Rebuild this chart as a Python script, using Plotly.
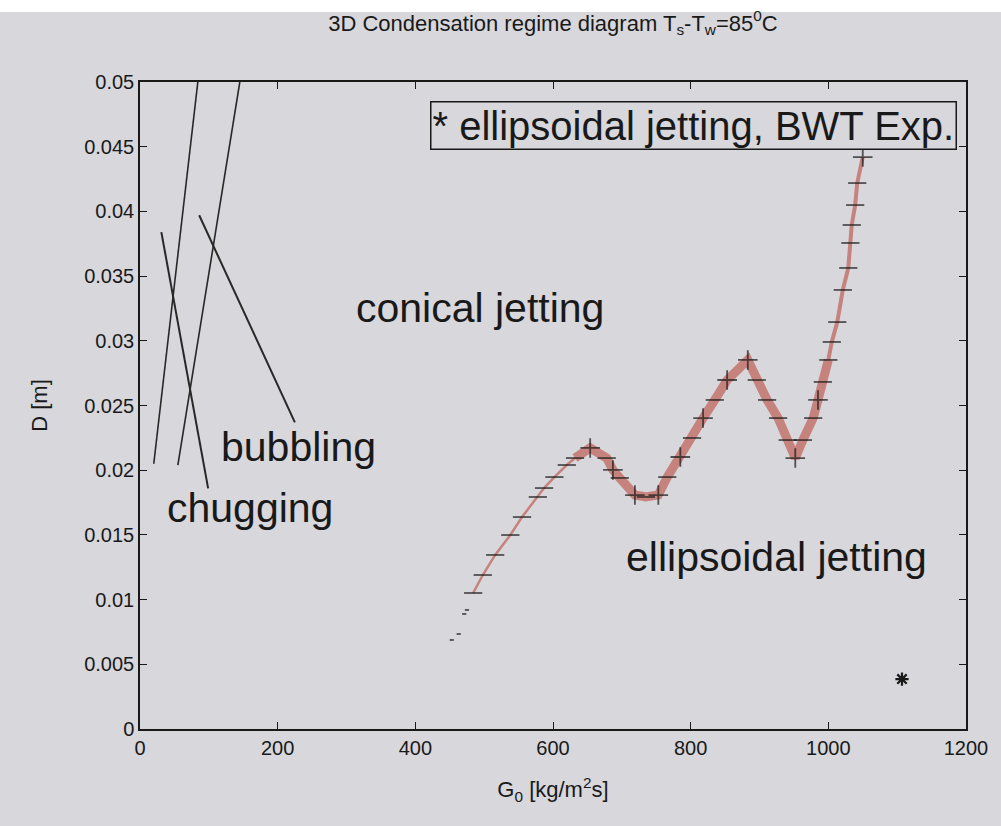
import plotly.graph_objects as go

# ---------------- data ----------------
# measured boundary curve (ellipsoidal / conical jetting), G0 [kg/m2s], D [m]
G_CURVE = [453, 463, 471, 475, 484, 498, 516, 538, 555, 578, 587, 602, 620, 632,
           654, 678, 687, 697, 719, 735, 753, 766, 785, 802, 818, 835, 853, 883,
           896, 911, 927, 941, 952, 963, 978, 985, 992, 1000, 1005, 1013, 1021,
           1029, 1032, 1034, 1039, 1042, 1050]
D_CURVE = [0.00688, 0.00734, 0.00889, 0.00920, 0.01051, 0.01190, 0.01345, 0.01499,
           0.01638, 0.01793, 0.01862, 0.01947, 0.02040, 0.02094, 0.02172, 0.02094,
           0.02002, 0.01940, 0.01808, 0.01793, 0.01808, 0.01947, 0.02102, 0.02249,
           0.02403, 0.02543, 0.02697, 0.02852, 0.02697, 0.02543, 0.02403, 0.02233,
           0.02094, 0.02233, 0.02403, 0.02543, 0.02682, 0.02852, 0.02991, 0.03145,
           0.03393, 0.03563, 0.03756, 0.03895, 0.04049, 0.04219, 0.04420]
# points whose marker prints as a full "+"
PLUS_G = [654, 687, 719, 753, 785, 818, 853, 883, 952, 985, 1050]
# points printed only as faint dots
DOT_G = [453, 463, 471, 475]

# BWT experiment (ellipsoidal jetting)
EXP_G = [1107]
EXP_D = [0.00386]

# regime boundary lines (two end points each)
LINE_A_G = [20, 84]
LINE_A_D = [0.0205, 0.05]
LINE_B_G = [55, 145]
LINE_B_D = [0.0204, 0.05]
LINE_C_G = [31, 99]
LINE_C_D = [0.0384, 0.0186]
LINE_D_G = [86, 225]
LINE_D_D = [0.0397, 0.0237]

# region labels
LABELS = ["conical jetting", "bubbling", "chugging", "ellipsoidal jetting"]
LABEL_G = [494, 230, 160, 925]
LABEL_D = [0.0325, 0.0218, 0.0171, 0.0133]

X_TICKS = [0, 200, 400, 600, 800, 1000, 1200]
Y_TICKS = [0, 0.005, 0.01, 0.015, 0.02, 0.025, 0.03, 0.035, 0.04, 0.045, 0.05]
Y_TICK_TEXT = ["0", "0.005", "0.01", "0.015", "0.02", "0.025", "0.03",
               "0.035", "0.04", "0.045", "0.05"]

TITLE = "3D Condensation regime diagram T<sub>s</sub>-T<sub>w</sub>=85<sup>0</sup>C"
X_TITLE = "G<sub>0</sub> [kg/m<sup>2</sup>s]"
Y_TITLE = "D [m]"
LEGEND_TEXT = "* ellipsoidal jetting, BWT Exp."

# ---------------- styles ----------------
BG = "rgb(215,215,220)"
BAND = "rgb(198,130,124)"
INK = "rgb(25,25,25)"
SMALL_FONT = "Liberation Sans Narrow, Arial Narrow, Liberation Sans, Arial, sans-serif"
BIG_FONT = "Liberation Sans, Arial, Helvetica, sans-serif"

fig = go.Figure()

# band segments of the curve (thin start, thick middle, medium top)
i_thick0 = G_CURVE.index(632)
i_thick1 = G_CURVE.index(1000)
segments = [(4, i_thick0 + 1, 2.5), (i_thick0, i_thick1 + 1, 9), (i_thick1, len(G_CURVE), 4)]
for a, b, w in segments:
    fig.add_trace(go.Scatter(x=G_CURVE[a:b], y=D_CURVE[a:b], mode="lines",
                             line=dict(color=BAND, width=w), hoverinfo="skip",
                             showlegend=False))

# markers
symbols, sizes = [], []
for g in G_CURVE:
    if g in DOT_G:
        symbols.append("line-ew"); sizes.append(3)
    elif g in PLUS_G:
        symbols.append("cross-thin"); sizes.append(14)
    else:
        symbols.append("line-ew"); sizes.append(13)
fig.add_trace(go.Scatter(x=G_CURVE, y=D_CURVE, mode="markers",
                         marker=dict(symbol=symbols, size=sizes, color=INK,
                                     line=dict(color=INK, width=1.8)),
                         showlegend=False))

# experiment point
fig.add_trace(go.Scatter(x=EXP_G, y=EXP_D, mode="markers",
                         marker=dict(symbol="asterisk-open", size=11, color=INK,
                                     line=dict(color=INK, width=2.2)),
                         showlegend=False))

# boundary lines
for gx, dy, w in [(LINE_A_G, LINE_A_D, 1.6), (LINE_B_G, LINE_B_D, 1.6),
                  (LINE_C_G, LINE_C_D, 2), (LINE_D_G, LINE_D_D, 2)]:
    fig.add_trace(go.Scatter(x=gx, y=dy, mode="lines",
                             line=dict(color="rgb(40,40,40)", width=w),
                             showlegend=False))

# region labels
for txt, gx, dy in zip(LABELS, LABEL_G, LABEL_D):
    fig.add_annotation(x=gx, y=dy, text=txt, showarrow=False,
                       font=dict(family=BIG_FONT, size=41, color=INK))

# legend box
fig.add_annotation(x=1187, y=0.04853, xanchor="right", yanchor="top",
                   text=LEGEND_TEXT, showarrow=False,
                   font=dict(family=BIG_FONT, size=40, color=INK),
                   bordercolor=INK, borderwidth=1.5, borderpad=1, bgcolor=BG)

axis_common = dict(showgrid=False, zeroline=False, showline=True, linecolor=INK,
                   linewidth=1.5, mirror="ticks", ticks="inside", ticklen=7,
                   tickwidth=1.3, tickcolor=INK,
                   tickfont=dict(family=SMALL_FONT, size=20, color=INK))

fig.update_xaxes(range=[0, 1200], tickvals=X_TICKS,
                 title=dict(text=X_TITLE, font=dict(family=SMALL_FONT, size=22, color=INK),
                            standoff=24),
                 **axis_common)
fig.update_yaxes(range=[0, 0.05], tickvals=Y_TICKS, ticktext=Y_TICK_TEXT,
                 title=dict(text=Y_TITLE, font=dict(family=SMALL_FONT, size=22, color=INK),
                            standoff=30),
                 **axis_common)

# white strip along top of the photographed page
fig.add_shape(type="rect", xref="paper", yref="paper", x0=-0.2, x1=1.1,
              y0=(729 - 12) / 647, y1=(729 + 5) / 647, fillcolor="white",
              line=dict(width=0), layer="above")

fig.update_layout(
    width=1001, height=826,
    margin=dict(l=140, r=35, t=82, b=97),
    paper_bgcolor=BG, plot_bgcolor=BG,
    title=dict(text=TITLE, x=(553) / 1001, xanchor="center", y=1 - 23 / 826,
               yanchor="middle", yref="container",
               font=dict(family=SMALL_FONT, size=22, color=INK)),
    showlegend=False,
)

fig.write_html("out.html")
